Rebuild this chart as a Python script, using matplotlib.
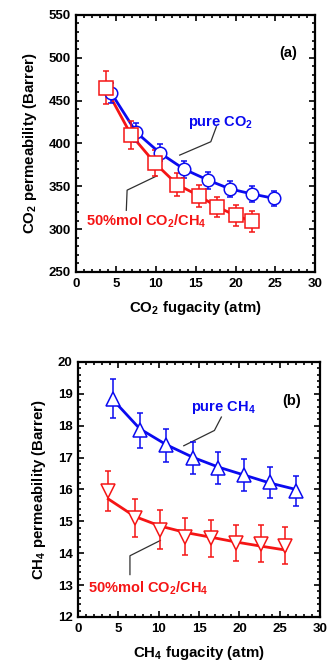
import numpy as np
import matplotlib
matplotlib.use("Agg")
import matplotlib.pyplot as plt
from matplotlib.ticker import MultipleLocator

plt.rcParams['font.family'] = ['Liberation Sans', 'DejaVu Sans']
plt.rcParams['font.weight'] = 'bold'
plt.rcParams['mathtext.fontset'] = 'custom'
plt.rcParams['mathtext.rm'] = 'Liberation Sans:bold'
plt.rcParams['mathtext.it'] = 'Liberation Sans:bold'
plt.rcParams['mathtext.bf'] = 'Liberation Sans:bold'
plt.rcParams['mathtext.default'] = 'rm'

## (a) CO2 permeability
co2_pure_x = [4.4, 7.55, 10.5, 13.55, 16.6, 19.3, 22.1, 24.8]
co2_pure_y = [459, 413, 389, 370, 357, 347, 341, 336]
co2_pure_err = [12, 11, 10, 10, 10, 9, 9, 9]

co2_mix_x = [3.7, 6.9, 9.9, 12.7, 15.4, 17.7, 20.0, 22.1]
co2_mix_y = [465, 410, 377, 352, 339, 326, 316, 309]
co2_mix_err = [19, 16, 15, 13, 13, 12, 12, 12]

## (b) CH4 permeability
ch4_pure_x = [4.37, 7.66, 10.96, 14.3, 17.4, 20.6, 23.8, 27.0]
ch4_pure_y = [18.85, 17.85, 17.38, 17.0, 16.68, 16.44, 16.22, 15.95]
ch4_pure_err = [0.6, 0.55, 0.52, 0.5, 0.5, 0.5, 0.48, 0.48]
ch4_pure_fit = [18.8, 17.9, 17.4, 17.0, 16.7, 16.45, 16.2, 16.0]

ch4_mix_x = [3.75, 7.05, 10.2, 13.3, 16.5, 19.6, 22.7, 25.7]
ch4_mix_y = [15.95, 15.1, 14.74, 14.52, 14.47, 14.32, 14.3, 14.24]
ch4_mix_err = [0.63, 0.6, 0.6, 0.58, 0.58, 0.57, 0.57, 0.57]
ch4_mix_fit = [15.7, 15.15, 14.85, 14.65, 14.5, 14.35, 14.22, 14.1]

BLUE = '#0a0af0'
RED = '#f51515'
LEAD = '#303030'

fig = plt.figure(figsize=(3.28, 6.66), dpi=100)
ax1 = fig.add_axes([0.232, 0.5916, 0.729, 0.386])
ax2 = fig.add_axes([0.238, 0.0736, 0.738, 0.383])


def style_axes(ax, ymaj, ymin):
    ax.xaxis.set_major_locator(MultipleLocator(5))
    ax.xaxis.set_minor_locator(MultipleLocator(1))
    ax.yaxis.set_major_locator(MultipleLocator(ymaj))
    ax.yaxis.set_minor_locator(MultipleLocator(ymin))
    ax.tick_params(which='both', direction='in', top=True, right=True, width=1.2)
    ax.tick_params(which='major', length=4, labelsize=9.5, pad=4)
    ax.tick_params(which='minor', length=2)
    for s in ax.spines.values():
        s.set_linewidth(1.6)
    for lab in ax.get_xticklabels() + ax.get_yticklabels():
        lab.set_fontweight('bold')


# panel a
ax1.plot(co2_pure_x, co2_pure_y, '-', color=BLUE, lw=2, zorder=2)
ax1.errorbar(co2_pure_x, co2_pure_y, yerr=co2_pure_err, fmt='o', color=BLUE,
             mfc='white', mec=BLUE, ms=9, mew=1.1, capsize=2.5, elinewidth=1.1, zorder=3)
ax1.plot(co2_mix_x, co2_mix_y, '-', color=RED, lw=2, zorder=2)
ax1.errorbar(co2_mix_x, co2_mix_y, yerr=co2_mix_err, fmt='s', color=RED,
             mfc='white', mec=RED, ms=10, mew=1.1, capsize=2.5, elinewidth=1.1, zorder=3)
ax1.set_xlim(0, 30)
ax1.set_ylim(250, 550)
style_axes(ax1, 50, 10)
ax1.set_xlabel(r'CO$_2$ fugacity (atm)', fontsize=10.8, fontweight='bold', labelpad=7)
ax1.set_ylabel(r'CO$_2$ permeability (Barrer)', fontsize=10.8, fontweight='bold', labelpad=7)
ax1.text(26.6, 505, '(a)', fontsize=10.5, fontweight='bold', ha='center', va='center')
ax1.text(14.0, 425, r'pure CO$_2$', fontsize=10.5, fontweight='bold', color=BLUE,
         ha='left', va='center')
ax1.plot([17.6, 16.9, 13.0], [419.5, 402, 386.4], '-', color=LEAD, lw=0.9)
ax1.text(1.2, 309, r'50%mol CO$_2$/CH$_4$', fontsize=10.5, fontweight='bold', color=RED,
         ha='left', va='center')
ax1.plot([6.3, 6.4, 10.1], [322, 345.5, 362], '-', color=LEAD, lw=0.9)

# panel b
ax2.plot(ch4_pure_x, ch4_pure_fit, '-', color=BLUE, lw=2, zorder=2)
ax2.errorbar(ch4_pure_x, ch4_pure_y, yerr=ch4_pure_err, fmt='^', color=BLUE,
             mfc='white', mec=BLUE, ms=10, mew=1.1, capsize=2.5, elinewidth=1.1, zorder=3)
ax2.plot(ch4_mix_x, ch4_mix_fit, '-', color=RED, lw=2, zorder=2)
ax2.errorbar(ch4_mix_x, ch4_mix_y, yerr=ch4_mix_err, fmt='v', color=RED,
             mfc='white', mec=RED, ms=10, mew=1.1, capsize=2.5, elinewidth=1.1, zorder=3)
ax2.set_xlim(0, 30)
ax2.set_ylim(12, 20)
style_axes(ax2, 1, 0.2)
ax2.set_xlabel(r'CH$_4$ fugacity (atm)', fontsize=10.8, fontweight='bold', labelpad=7)
ax2.set_ylabel(r'CH$_4$ permeability (Barrer)', fontsize=10.8, fontweight='bold', labelpad=7)
ax2.text(26.5, 18.77, '(b)', fontsize=10.5, fontweight='bold', ha='center', va='center')
ax2.text(14.0, 18.58, r'pure CH$_4$', fontsize=10.5, fontweight='bold', color=BLUE,
         ha='left', va='center')
ax2.plot([17.76, 16.9, 13.1], [18.27, 17.85, 17.37], '-', color=LEAD, lw=0.9)
ax2.text(1.2, 12.9, r'50%mol CO$_2$/CH$_4$', fontsize=10.5, fontweight='bold', color=RED,
         ha='left', va='center')
ax2.plot([6.43, 6.43, 10.2], [13.33, 13.92, 14.4], '-', color=LEAD, lw=0.9)

fig.savefig('out.png', dpi=100)
